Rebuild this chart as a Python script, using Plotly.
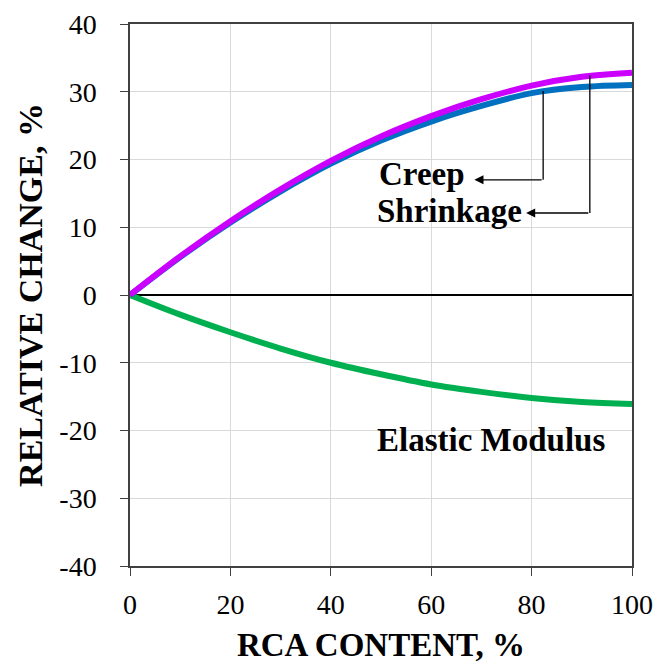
import plotly.graph_objects as go

rca = [0, 10, 20, 30, 40, 50, 60, 70, 80, 90, 100]
shrinkage = [0, 5.7, 10.9, 15.6, 19.8, 23.4, 26.4, 28.9, 30.9, 32.2, 32.8]
creep = [0, 5.6, 10.7, 15.3, 19.4, 22.8, 25.6, 27.9, 29.8, 30.7, 31.0]
elastic = [0, -2.9, -5.5, -7.9, -10.0, -11.7, -13.2, -14.3, -15.2, -15.8, -16.1]

x_ticks = [0, 20, 40, 60, 80, 100]
x_labels = ["0", "20", "40", "60", "80", "100"]
y_ticks = [-40, -30, -20, -10, 0, 10, 20, 30, 40]
y_labels = ["-40", "-30", "-20", "-10", "0", "10", "20", "30", "40"]

FONT = "Liberation Serif"

fig = go.Figure()
fig.add_trace(go.Scatter(x=rca, y=elastic, mode="lines", line=dict(color="#00B050", width=6, shape="spline"), name="Elastic Modulus"))
fig.add_trace(go.Scatter(x=rca, y=creep, mode="lines", line=dict(color="#0070C0", width=6, shape="spline"), name="Creep"))
fig.add_trace(go.Scatter(x=rca, y=shrinkage, mode="lines", line=dict(color="#CC00FF", width=6, shape="spline"), name="Shrinkage"))

# leader lines
leaders = [
    # (x_curve, y_curve, y_level, x_head)
    (82.3, 30.1, 17.0, 68.6),
    (91.6, 32.4, 12.1, 78.9),
]
for xc, yc, yl, xh in leaders:
    fig.add_shape(type="line", x0=xc, y0=yc, x1=xc, y1=yl, line=dict(color="black", width=1.3), layer="above")
    fig.add_annotation(x=xh, y=yl, ax=xc, ay=yl, axref="x", ayref="y", xref="x", yref="y",
                       showarrow=True, arrowhead=2, arrowsize=1.4, arrowwidth=1.3, arrowcolor="black", text="")

fig.add_annotation(x=67.2, y=17.9, text="<b>Creep</b>", showarrow=False, xanchor="right", yanchor="middle",
                   font=dict(family=FONT, size=33, color="black"))
fig.add_annotation(x=78.4, y=12.4, text="<b>Shrinkage</b>", showarrow=False, xanchor="right", yanchor="middle",
                   font=dict(family=FONT, size=33, color="black"))
fig.add_annotation(x=48.8, y=-21.4, text="<b>Elastic Modulus</b>", showarrow=False, xanchor="left", yanchor="middle",
                   font=dict(family=FONT, size=33, color="black"))

fig.update_layout(
    width=656, height=663,
    margin=dict(l=130, r=24, t=24, b=97),
    paper_bgcolor="white", plot_bgcolor="white",
    showlegend=False,
    font=dict(family=FONT, color="black"),
)
fig.update_xaxes(
    range=[0, 100], tickvals=x_ticks, ticktext=x_labels, ticks="outside", ticklen=8, tickcolor="#404040",
    showline=True, linecolor="#404040", linewidth=1.5, mirror=True, automargin=False,
    showgrid=True, gridcolor="#d9d9d9", gridwidth=1.3, zeroline=False,
    tickfont=dict(family=FONT, size=28, color="black"), ticklabelstandoff=5,
    title=dict(text="<b>RCA CONTENT, %</b>", font=dict(family=FONT, size=33, color="black"), standoff=17),
)
fig.update_yaxes(
    range=[-40, 40], tickvals=y_ticks, ticktext=y_labels, ticks="outside", ticklen=8, tickcolor="#404040",
    showline=True, linecolor="#404040", linewidth=1.5, mirror=True, automargin=False,
    showgrid=True, gridcolor="#d9d9d9", gridwidth=1.3,
    zeroline=True, zerolinecolor="black", zerolinewidth=2,
    tickfont=dict(family=FONT, size=28, color="black"), ticklabelstandoff=18,
    title=dict(text="<b>RELATIVE CHANGE, %</b>", font=dict(family=FONT, size=34, color="black"), standoff=6),
)

fig.write_html("out.html", config={"displayModeBar": False},
               post_script="document.body.style.margin='0';document.body.style.overflow='hidden';")
